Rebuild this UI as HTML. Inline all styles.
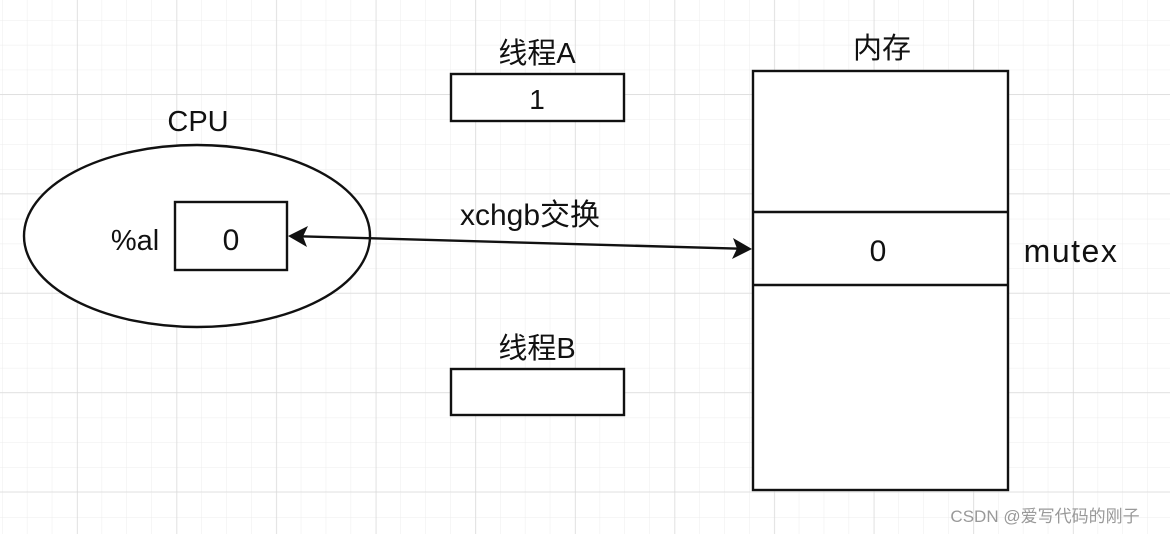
<!DOCTYPE html>
<html><head><meta charset="utf-8"><style>
html,body{margin:0;padding:0;background:#fff;}
svg{display:block;}
text{font-family:"Liberation Sans","Noto Sans CJK SC",sans-serif;fill:#111;}
</style></head><body>
<svg width="1170" height="534" viewBox="0 0 1170 534" xmlns="http://www.w3.org/2000/svg">
<defs>
<pattern id="minor" x="2" y="20" width="24.9" height="24.85" patternUnits="userSpaceOnUse">
<path d="M0 0V24.85M0 0H24.9" stroke="#ececec" stroke-width="1" fill="none"/>
</pattern>
<pattern id="major" x="77" y="94" width="99.6" height="99.4" patternUnits="userSpaceOnUse">
<path d="M0 0V99.4M0 0H99.6" stroke="#d8d8d8" stroke-width="1.3" fill="none"/>
</pattern>
</defs>
<rect width="1170" height="534" fill="url(#minor)"/>
<rect width="1170" height="534" fill="url(#major)"/>

<text x="198" y="131" font-size="29" text-anchor="middle">CPU</text>
<ellipse cx="197" cy="236" rx="173" ry="91" fill="#fff" stroke="#111" stroke-width="2.4"/>
<rect x="175" y="202" width="112" height="68" fill="#fff" stroke="#111" stroke-width="2.4"/>
<text x="231" y="250" font-size="30" text-anchor="middle">0</text>
<text x="135" y="250" font-size="29" text-anchor="middle">%al</text>

<text x="537" y="63" font-size="29" text-anchor="middle">线程A</text>
<rect x="451" y="74" width="173" height="47" fill="#fff" stroke="#111" stroke-width="2.4"/>
<text x="537" y="109" font-size="28" text-anchor="middle">1</text>

<text x="537" y="358" font-size="29" text-anchor="middle">线程B</text>
<rect x="451" y="369" width="173" height="46" fill="#fff" stroke="#111" stroke-width="2.4"/>

<text x="882" y="58" font-size="29" text-anchor="middle">内存</text>
<rect x="753" y="71" width="255" height="419" fill="#fff" stroke="#111" stroke-width="2.4"/>
<line x1="753" y1="212" x2="1008" y2="212" stroke="#111" stroke-width="2.4"/>
<line x1="753" y1="285" x2="1008" y2="285" stroke="#111" stroke-width="2.4"/>
<text x="878" y="261" font-size="30" text-anchor="middle">0</text>
<text x="1071" y="262" font-size="32" text-anchor="middle" letter-spacing="1.5">mutex</text>

<text x="530" y="225" font-size="30" text-anchor="middle">xchgb交换</text>
<line x1="300" y1="236.3" x2="740" y2="248.7" stroke="#111" stroke-width="2.4"/>
<path d="M288 236 L308 226 L303 236.5 L307 247 Z" fill="#111"/>
<path d="M752 249 L732 259 L737 248.5 L733 238 Z" fill="#111"/>

<text x="1045" y="522" font-size="17" text-anchor="middle" style="fill:#999">CSDN @爱写代码的刚子</text>
</svg>
</body></html>
